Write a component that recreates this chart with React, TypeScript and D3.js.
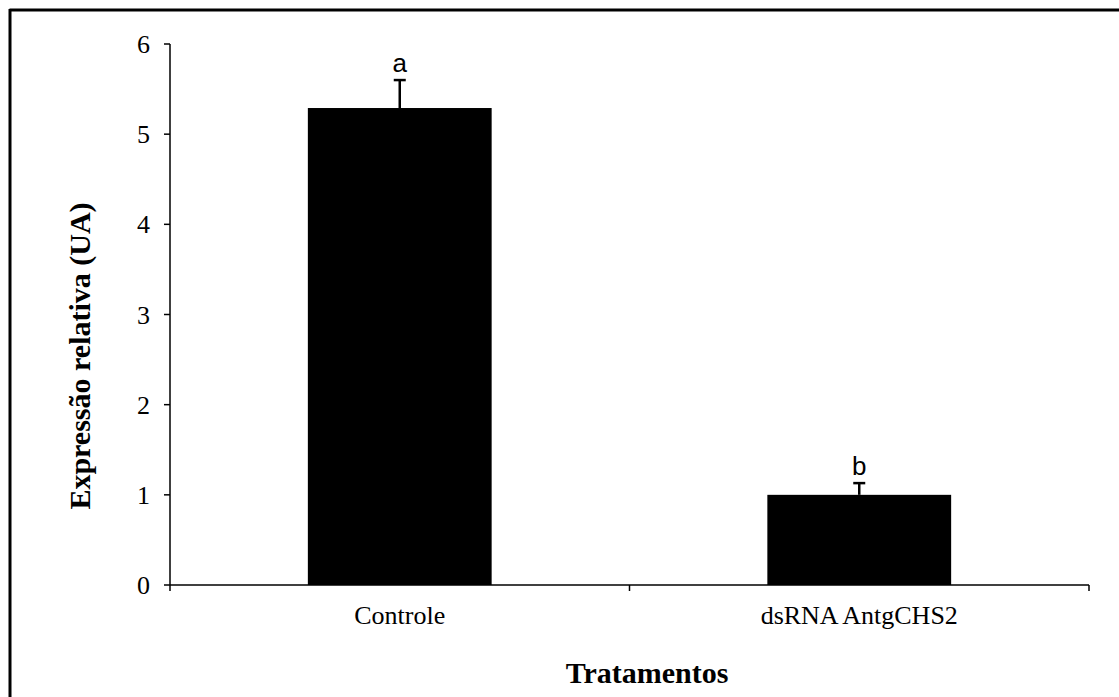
import React from "react";
import * as d3 from "d3";

const categories = ["Controle", "dsRNA AntgCHS2"];
const means = [5.29, 1.0];
const errors = [0.31, 0.13];
const letters = ["a", "b"];
const yTicks = [0, 1, 2, 3, 4, 5, 6];

const W = 1119;
const H = 697;
const M = { left: 170, right: 30, top: 44, bottom: 112 };

export default function App() {
  const x = d3
    .scaleBand<string>()
    .domain(categories)
    .range([M.left, W - M.right])
    .paddingInner(0.6)
    .paddingOuter(0.3);
  const y = d3.scaleLinear().domain([0, 6]).range([H - M.bottom, M.top]);
  const step = x.step();
  const x0 = M.left;
  const x1 = W - M.right;
  const y0 = y(0);
  const serif = "'Liberation Serif', 'Times New Roman', serif";
  const sans = "'Liberation Sans', Arial, sans-serif";
  const catBounds = d3.range(categories.length + 1).map((i) => x0 + i * step);

  return (
    <svg width={W} height={H} style={{ position: "absolute", left: 0, top: 0, background: "#fff" }}>
      <rect x={0} y={0} width={W} height={H} fill="#fff" />
      {/* frame */}
      <line x1={9.5} y1={10} x2={W} y2={10} stroke="#000" strokeWidth={3} />
      <line x1={10} y1={9} x2={10} y2={H} stroke="#000" strokeWidth={3} />

      {/* bars */}
      {categories.map((c, i) => (
        <rect
          key={c}
          x={x(c)!}
          y={y(means[i])}
          width={x.bandwidth()}
          height={y0 - y(means[i])}
          fill="#000"
        />
      ))}
      {/* error bars */}
      {categories.map((c, i) => {
        const cx = x(c)! + x.bandwidth() / 2;
        const top = y(means[i] + errors[i]);
        return (
          <g key={c + "e"} stroke="#000" strokeWidth={2.5}>
            <line x1={cx} x2={cx} y1={y(means[i])} y2={top} />
            <line x1={cx - 6} x2={cx + 6} y1={top} y2={top} />
          </g>
        );
      })}
      {/* significance letters */}
      {categories.map((c, i) => (
        <text
          key={c + "l"}
          x={x(c)! + x.bandwidth() / 2}
          y={y(means[i] + errors[i]) - 8}
          textAnchor="middle"
          fontFamily={sans}
          fontSize={26}
          fill="#000"
        >
          {letters[i]}
        </text>
      ))}

      {/* y axis */}
      <line x1={x0} x2={x0} y1={y(6)} y2={y0} stroke="#000" strokeWidth={1.5} />
      {yTicks.map((t) => (
        <g key={t}>
          <line x1={x0 - 6} x2={x0} y1={y(t)} y2={y(t)} stroke="#000" strokeWidth={1.5} />
          <text
            x={x0 - 20}
            y={y(t)}
            dy="0.35em"
            textAnchor="end"
            fontFamily={serif}
            fontSize={26}
            fill="#000"
          >
            {t}
          </text>
        </g>
      ))}

      {/* x axis */}
      <line x1={x0} x2={x1} y1={y0} y2={y0} stroke="#000" strokeWidth={1.5} />
      {catBounds.map((b, i) => (
        <line key={i} x1={b} x2={b} y1={y0} y2={y0 + 6} stroke="#000" strokeWidth={1.5} />
      ))}
      {categories.map((c) => (
        <text
          key={c + "t"}
          x={x(c)! + x.bandwidth() / 2}
          y={y0 + 39}
          textAnchor="middle"
          fontFamily={serif}
          fontSize={26}
          fill="#000"
        >
          {c}
        </text>
      ))}

      {/* axis titles */}
      <text
        x={647}
        y={683}
        textAnchor="middle"
        fontFamily={serif}
        fontWeight="bold"
        fontSize={30}
        fill="#000"
      >
        Tratamentos
      </text>
      <text
        transform={`translate(90, 356) rotate(-90)`}
        textAnchor="middle"
        fontFamily={serif}
        fontWeight="bold"
        fontSize={30}
        fill="#000"
      >
        Expressão relativa (UA)
      </text>
    </svg>
  );
}
